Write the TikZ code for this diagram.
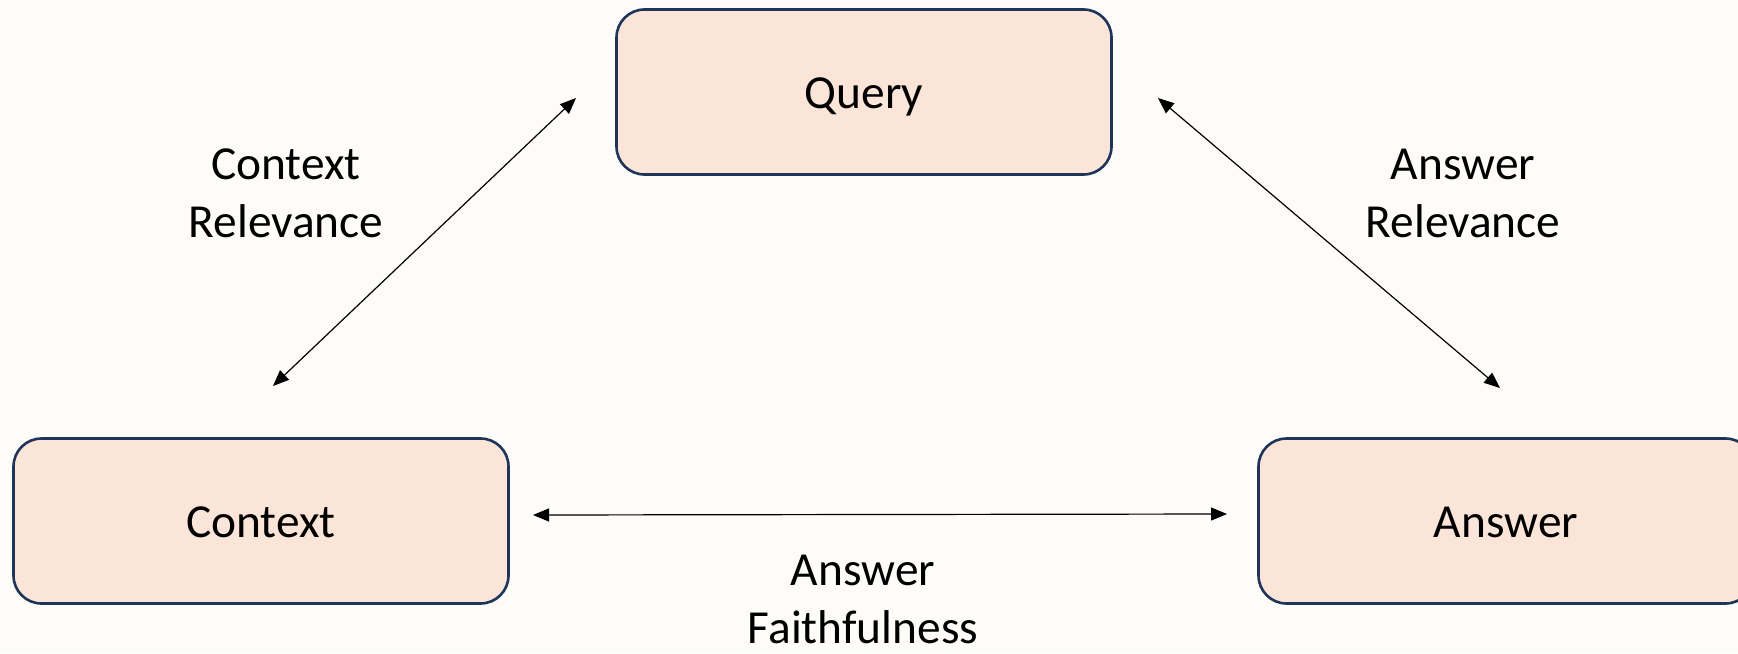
\documentclass[tikz,border=0pt]{standalone}
\usepackage{fontspec}
\setmainfont{Carlito}
\usetikzlibrary{arrows.meta}
\definecolor{bgcol}{HTML}{FEFCF9}
\definecolor{boxfill}{HTML}{FBE5D8}
\definecolor{boxline}{HTML}{1F3459}
\tikzset{
  metricbox/.style={draw=boxline, fill=boxfill, line width=1.3pt, rounded corners=14pt,
    minimum width=247.5pt, minimum height=82.5pt, inner sep=0pt,
    text height=16pt, text depth=0pt,
    font=\fontsize{23.7}{29}\selectfont},
  metriclabel/.style={align=center, inner sep=0pt, font=\fontsize{23.7}{29}\selectfont},
  biarrow/.style={draw=black, line width=0.6pt, {Triangle[length=8pt,width=6.5pt]}-{Triangle[length=8pt,width=6.5pt]}}
}
\begin{document}
\begin{tikzpicture}[x=0.5pt,y=-0.5pt]
\fill[bgcol] (0,0) rectangle (1738,653);
\useasboundingbox (0,0) rectangle (1738,653);
\clip (0,0) rectangle (1738,653);
\node[metricbox] (query) at (864,92) {Query};
\node[metricbox] (context) at (261,521) {Context};
\node[metricbox] (answer) at (1506,521) {Answer};
\coordinate (crA) at (273,386);
\coordinate (crB) at (576,98);
\coordinate (arA) at (1158,98);
\coordinate (arB) at (1500,388);
\coordinate (afA) at (533,515);
\coordinate (afB) at (1227,514);
\draw[biarrow] (crA) -- (crB);
\draw[biarrow] (arA) -- (arB);
\draw[biarrow] (afA) -- (afB);
\node[metriclabel] (crlabel) at (286,193) {Context\\Relevance};
\node[metriclabel] (arlabel) at (1463,193) {Answer\\Relevance};
\node[metriclabel] (aflabel) at (863,599) {Answer\\Faithfulness};
\end{tikzpicture}
\end{document}
